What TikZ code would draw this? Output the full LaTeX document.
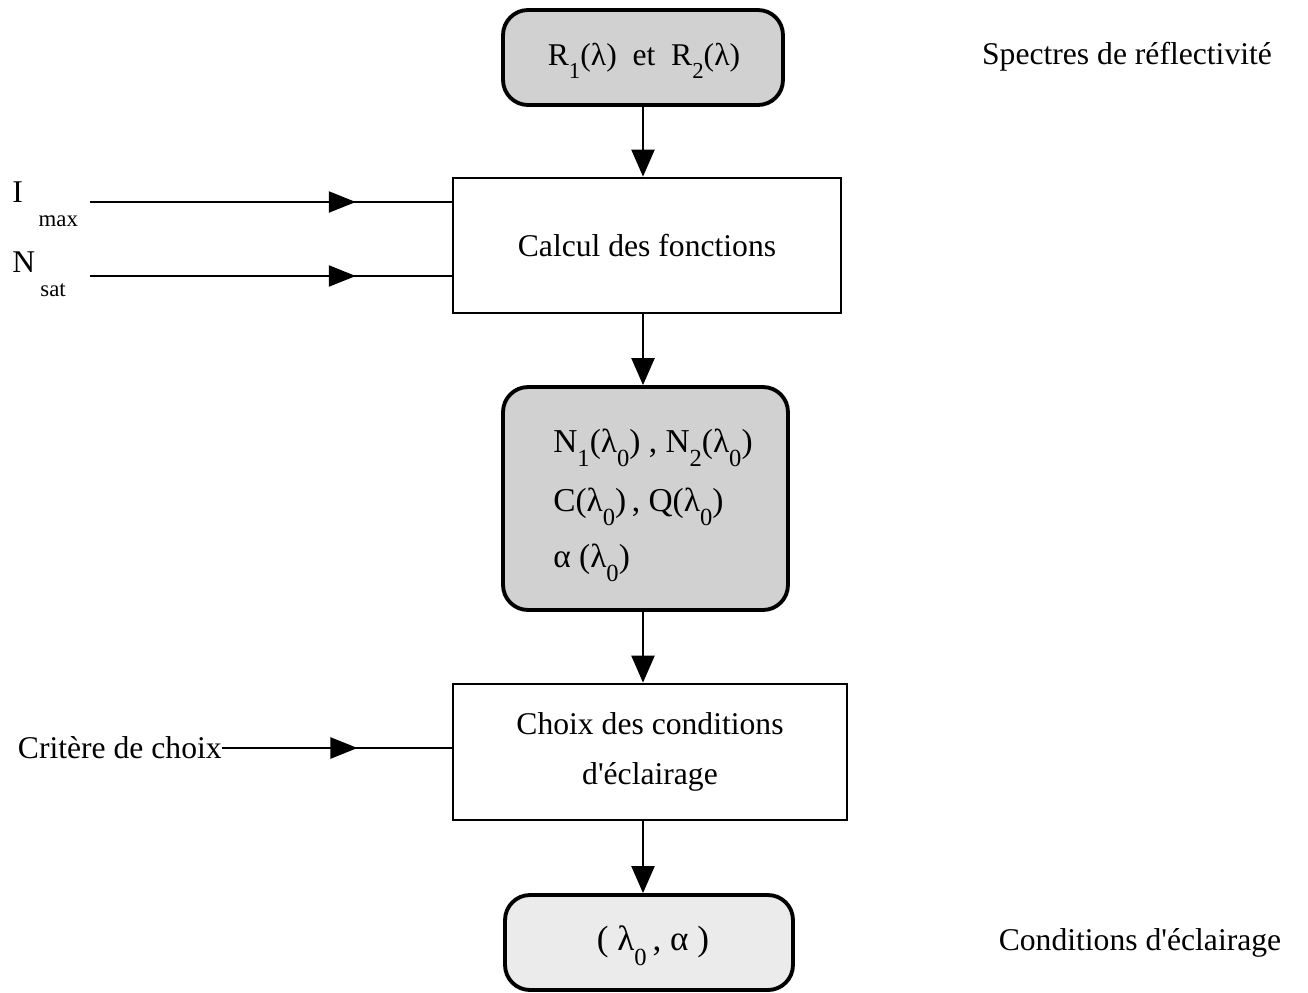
\documentclass[tikz,border=0pt]{standalone}
\usepackage{fontspec}
\setmainfont{Liberation Serif}
\usetikzlibrary{arrows.meta,decorations.markings}
\newcommand\lsub[1]{\raisebox{-0.42em}{\fontsize{13}{13}\selectfont #1}}
\newcommand\bsub[1]{\raisebox{-0.42em}{\fontsize{14}{14}\selectfont #1}}
\begin{document}
\begin{tikzpicture}[x=0.02cm,y=-0.02cm,
  every node/.style={font=\fontsize{18}{22}\selectfont, inner sep=0pt},
  sqbox/.style={draw, line width=1.6pt},
  rbox/.style={draw, line width=2.2pt, rounded corners=0.5cm, fill=black!18},
  midtxt/.style={anchor=base west, font=\fontsize{19}{22}\selectfont},
  conn/.style={line width=1.3pt},
  arr/.style={-{Triangle[length=0.54cm,width=0.46cm]}},
  midarr/.style={postaction={decorate}, decoration={markings, mark=at position #1 with {\arrow{Triangle[length=0.54cm,width=0.42cm]}}}}
]
\useasboundingbox (0,0) rectangle (1308,992);

% boxes
\node[rbox, minimum width=5.6cm, minimum height=1.9cm] (top) at (643,57.5) {};
\node (toptxt) at (644,61) {R\lsub{1}(λ)\ \ et\ \ R\lsub{2}(λ)};
\node[sqbox, minimum width=7.76cm, minimum height=2.7cm] (calc) at (647,245.5) {Calcul des fonctions};
\node[rbox, minimum width=5.7cm, minimum height=4.46cm] (mid) at (645.5,498.5) {};
\node[midtxt] (m1) at (553,452) {N\bsub{1}(λ\bsub{0}) ,\ N\bsub{2}(λ\bsub{0})};
\node[midtxt] (m2) at (553,511) {C(λ\bsub{0})\,,\ Q(λ\bsub{0})};
\node[midtxt] (m3) at (553,567) {α (λ\bsub{0})};
\node[sqbox, minimum width=7.88cm, minimum height=2.72cm, align=center, font=\fontsize{18}{28}\selectfont] (choix) at (650,752) {Choix des conditions\\d\textquotesingle éclairage};
\node[rbox, fill=black!8, minimum width=5.76cm, minimum height=1.9cm] (bot) at (649,942.5) {};
\node[font=\fontsize{20}{22}\selectfont] (bottxt) at (653,946) {(\ λ\bsub{0}\,,\ α\ )};

% side labels
\node (spec) at (1127,57) {Spectres de réflectivité};
\node (cond) at (1140,943) {Conditions d\textquotesingle éclairage};

\node[anchor=west] (imax) at (12,204) {I\ \ \raisebox{-0.75em}{\fontsize{13}{13}\selectfont max}};
\node[anchor=west] (nsat) at (12,274) {N\,\raisebox{-0.75em}{\fontsize{13}{13}\selectfont sat}};
\node[anchor=east] (crit) at (222,748) {Critère de choix};
\coordinate (imaxin) at (90,202);
\coordinate (nsatin) at (90,276);

% connectors
\draw[conn, arr] (top.south) -- (top.south |- calc.north);
\draw[conn, arr] (calc.south -| top.south) -- (top.south |- mid.north);
\draw[conn, arr] (mid.south -| top.south) -- (top.south |- choix.north);
\draw[conn, arr] (choix.south -| top.south) -- (top.south |- bot.north);

\draw[conn, midarr=0.735] (imaxin) -- (imaxin -| calc.west);
\draw[conn, midarr=0.735] (nsatin) -- (nsatin -| calc.west);
\draw[conn, midarr=0.59] (crit.east) -- (crit.east -| choix.west);
\end{tikzpicture}
\end{document}
